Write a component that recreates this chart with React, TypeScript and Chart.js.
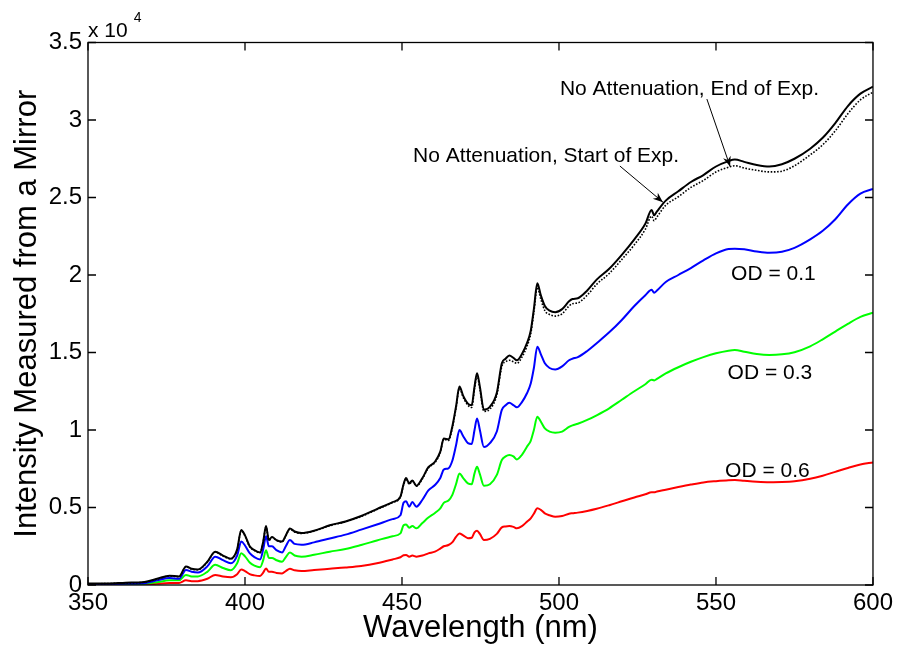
import { useEffect, useRef } from "react";
import { Chart, registerables } from "chart.js";

Chart.register(...registerables);

// Wavelength grid (nm) shared by every spectrum
const wavelengthNm = [
  350, 356, 362, 368, 372, 376, 379, 381.2, 383, 385,
  388, 390.5, 393, 395.5, 397.5, 398.8, 400, 401.5, 403, 404.8,
  405.8, 406.7, 407.6, 408.6, 410, 411.8, 413, 414.3, 415.8, 418,
  422, 427, 432, 437, 442, 447, 449.5, 450.5, 451.3, 452.3,
  453.3, 454.6, 456.5, 458.4, 460.5, 462.2, 463.3, 464.8, 466, 467.2,
  468.3, 469.5, 471, 472.2, 473.1, 473.9, 474.8, 476.1, 478, 480.2,
  481.8, 483, 484.2, 485.5, 486.6, 488.2, 489.8, 491, 492, 493.1,
  494.2, 495.5, 497, 498.8, 501, 503.2, 504.3, 506, 509, 512,
  516, 520, 524, 527.5, 529.5, 530.3, 531.2, 534, 538, 542,
  546, 550, 554, 556, 559, 563, 567, 571, 575, 580,
  584, 588, 592, 596, 600,
];

// No attenuation, end of experiment (counts)
const noAttenEnd = [
  100, 100, 150, 200, 400, 600, 550, 1200, 1050, 1000,
  1500, 2150, 1900, 1700, 2300, 3550, 3200, 2500, 2250, 2100,
  2800, 3800, 2900, 3100, 2900, 2800, 3200, 3650, 3450, 3350,
  3500, 3850, 4100, 4450, 4900, 5350, 5700, 6500, 6900, 6550,
  6750, 6400, 6900, 7600, 7950, 8600, 9450, 9400, 10200, 11500,
  12800, 12200, 11700, 11600, 12800, 13660, 12800, 11300, 11500, 12400,
  14300, 14600, 14800, 14650, 14500, 14900, 15600, 16400, 17800, 19460,
  18700, 18000, 17700, 17600, 17800, 18300, 18450, 18500, 19000, 19700,
  20400, 21300, 22300, 23300, 24200, 23850, 24100, 24800, 25400, 26000,
  26450, 27000, 27350, 27450, 27300, 27100, 27000, 27150, 27500, 28150,
  28850, 29800, 30900, 31700, 32150,
];

// No attenuation, start of experiment (counts)
const noAttenStart = [
  80, 90, 130, 180, 380, 580, 530, 1170, 1020, 980,
  1470, 2120, 1870, 1680, 2270, 3500, 3170, 2470, 2230, 2080,
  2770, 3750, 2870, 3070, 2880, 2780, 3170, 3600, 3420, 3330,
  3480, 3820, 4080, 4420, 4870, 5320, 5670, 6450, 6850, 6500,
  6700, 6370, 6850, 7550, 7900, 8550, 9400, 9330, 10100, 11400,
  12700, 12100, 11600, 11450, 12650, 13500, 12650, 11200, 11350, 12250,
  14100, 14400, 14500, 14400, 14300, 14700, 15400, 16200, 17600, 19200,
  18450, 17700, 17450, 17350, 17500, 18000, 18150, 18200, 18700, 19400,
  20100, 21000, 21950, 22950, 23800, 23500, 23750, 24500, 25050, 25650,
  26100, 26650, 26950, 27050, 26900, 26750, 26650, 26700, 27050, 27750,
  28400, 29300, 30400, 31300, 31800,
];

// OD = 0.1 filter (counts)
const od01 = [
  50, 50, 80, 120, 300, 450, 400, 970, 850, 800,
  1200, 1830, 1600, 1400, 1900, 2800, 2550, 2050, 1800, 1650,
  2300, 3150, 2500, 2500, 2250, 2100, 2500, 2900, 2650, 2600,
  2750, 3000, 3250, 3570, 3900, 4250, 4500, 5300, 5400, 5050,
  5350, 5050, 5500, 6100, 6450, 6900, 7450, 7530, 8000, 9000,
  10000, 9600, 9150, 9100, 10000, 10750, 10000, 8900, 9150, 9900,
  11300, 11600, 11760, 11600, 11460, 11800, 12370, 13000, 14000, 15370,
  14900, 14300, 14000, 13900, 14100, 14500, 14600, 14700, 15100, 15600,
  16300, 17100, 18000, 18700, 19050, 18850, 19000, 19550, 20000, 20450,
  20950, 21400, 21680, 21700, 21660, 21520, 21440, 21500, 21750, 22300,
  22850, 23600, 24550, 25250, 25550,
];

// OD = 0.3 filter (counts)
const od03 = [
  30, 30, 50, 80, 180, 300, 300, 650, 550, 550,
  850, 1300, 1100, 950, 1400, 2050, 1850, 1450, 1250, 1150,
  1600, 2250, 1750, 1750, 1600, 1500, 1800, 2100, 1900, 1830,
  1950, 2150, 2320, 2580, 2870, 3150, 3330, 3850, 3900, 3700,
  3800, 3660, 4000, 4350, 4650, 4950, 5300, 5450, 5800, 6500,
  7200, 6900, 6550, 6500, 7200, 7630, 7150, 6400, 6500, 7100,
  8060, 8300, 8390, 8300, 8100, 8400, 8920, 9300, 10000, 10860,
  10550, 10100, 9900, 9830, 9900, 10200, 10300, 10400, 10650, 10950,
  11400, 11950, 12500, 12950, 13250, 13200, 13300, 13650, 14050, 14400,
  14700, 14950, 15120, 15160, 15050, 14900, 14840, 14880, 15020, 15400,
  15850, 16350, 16850, 17300, 17570,
];

// OD = 0.6 filter (counts)
const od06 = [
  0, 0, 20, 30, 80, 130, 130, 300, 250, 250,
  400, 650, 550, 500, 700, 1000, 900, 700, 620, 580,
  800, 1070, 850, 850, 780, 750, 900, 1050, 950, 900,
  970, 1050, 1130, 1230, 1400, 1650, 1790, 1920, 1940, 1820,
  1900, 1830, 1900, 2040, 2150, 2350, 2500, 2580, 2750, 3100,
  3330, 3200, 3020, 3050, 3400, 3500, 3300, 2900, 2980, 3300,
  3720, 3780, 3800, 3750, 3660, 3800, 4080, 4300, 4600, 4950,
  4850, 4620, 4500, 4400, 4450, 4600, 4630, 4670, 4780, 4920,
  5150, 5400, 5650, 5850, 5980, 5980, 6030, 6150, 6320, 6480,
  6620, 6700, 6760, 6770, 6720, 6660, 6630, 6640, 6690, 6850,
  7050, 7300, 7550, 7780, 7900,
];

const xTickValues = [350, 400, 450, 500, 550, 600];
const yTickValues = [0, 5000, 10000, 15000, 20000, 25000, 30000, 35000];
const yTickLabels = ["0", "0.5", "1", "1.5", "2", "2.5", "3", "3.5"];

// Text labels placed in data units (nm, counts); text is left-aligned at its baseline
const labelTexts = [
  "No Attenuation, End of Exp.",
  "No Attenuation, Start of Exp.",
  "OD = 0.1",
  "OD = 0.3",
  "OD = 0.6",
];
const labelNm = [500.3, 453.5, 554.8, 553.7, 552.9];
const labelCounts = [31600, 27300, 19680, 13300, 6950];

// Arrows from the two "No Attenuation" labels to their curves
const arrowFromNm = [547.1, 519.4];
const arrowFromCounts = [31350, 27030];
const arrowToNm = [554.5, 533.1];
const arrowToCounts = [27000, 24700];

const FONT = '"Liberation Sans", Arial, sans-serif';
const TICK_LEN = 8;

const toPoints = (ys: number[]) => wavelengthNm.map((x, i) => ({ x, y: ys[i] }));

const framePlugin = {
  id: "matlabFrame",
  afterDatasetsDraw(chart: any) {
    const { ctx, chartArea: a, scales } = chart;
    const xs = scales.x;
    const ys = scales.y;
    ctx.save();
    ctx.strokeStyle = "#000";
    ctx.lineWidth = 1.3;
    ctx.strokeRect(a.left, a.top, a.right - a.left, a.bottom - a.top);

    // inward tick marks on all four sides
    ctx.beginPath();
    for (const t of xs.ticks) {
      const px = xs.getPixelForValue(t.value);
      ctx.moveTo(px, a.bottom);
      ctx.lineTo(px, a.bottom - TICK_LEN);
      ctx.moveTo(px, a.top);
      ctx.lineTo(px, a.top + TICK_LEN);
    }
    for (const t of ys.ticks) {
      const py = ys.getPixelForValue(t.value);
      ctx.moveTo(a.left, py);
      ctx.lineTo(a.left + TICK_LEN, py);
      ctx.moveTo(a.right, py);
      ctx.lineTo(a.right - TICK_LEN, py);
    }
    ctx.stroke();

    // exponent label above the y axis
    ctx.fillStyle = "#000";
    ctx.textAlign = "left";
    ctx.textBaseline = "alphabetic";
    ctx.font = `21px ${FONT}`;
    ctx.fillText("x 10", a.left, a.top - 5.5);
    const w = ctx.measureText("x 10").width;
    ctx.font = `14px ${FONT}`;
    ctx.fillText("4", a.left + w + 6, a.top - 20.5);

    // curve labels
    ctx.font = `21px ${FONT}`;
    labelTexts.forEach((txt, i) => {
      ctx.fillText(txt, xs.getPixelForValue(labelNm[i]), ys.getPixelForValue(labelCounts[i]));
    });

    // arrows
    ctx.lineWidth = 1;
    arrowFromNm.forEach((_, i) => {
      const x0 = xs.getPixelForValue(arrowFromNm[i]);
      const y0 = ys.getPixelForValue(arrowFromCounts[i]);
      const x1 = xs.getPixelForValue(arrowToNm[i]);
      const y1 = ys.getPixelForValue(arrowToCounts[i]);
      const ang = Math.atan2(y1 - y0, x1 - x0);
      ctx.beginPath();
      ctx.moveTo(x0, y0);
      ctx.lineTo(x1, y1);
      ctx.stroke();
      const hl = 10;
      const hw = 4;
      const bx = x1 - hl * Math.cos(ang);
      const by = y1 - hl * Math.sin(ang);
      const nx = -Math.sin(ang);
      const ny = Math.cos(ang);
      const backX = x1 - hl * 0.7 * Math.cos(ang);
      const backY = y1 - hl * 0.7 * Math.sin(ang);
      ctx.beginPath();
      ctx.moveTo(x1, y1);
      ctx.lineTo(bx + nx * hw, by + ny * hw);
      ctx.lineTo(backX, backY);
      ctx.lineTo(bx - nx * hw, by - ny * hw);
      ctx.closePath();
      ctx.fill();
    });
    ctx.restore();
  },
};

export default function App() {
  const canvasRef = useRef<HTMLCanvasElement | null>(null);

  useEffect(() => {
    const canvas = canvasRef.current;
    if (!canvas) return;
    const line = (label: string, ys: number[], color: string, width: number, dash: number[] = []) => ({
      label,
      data: toPoints(ys),
      borderColor: color,
      backgroundColor: color,
      borderWidth: width,
      borderDash: dash,
      pointRadius: 0,
      fill: false,
      cubicInterpolationMode: "monotone" as const,
    });

    const chart = new Chart(canvas, {
      type: "line",
      data: {
        datasets: [
          line("No Attenuation, End of Exp.", noAttenEnd, "#000000", 2),
          line("No Attenuation, Start of Exp.", noAttenStart, "#000000", 1.6, [1.6, 1.6]),
          line("OD = 0.1", od01, "#0000ff", 2),
          line("OD = 0.3", od03, "#00ff00", 2),
          line("OD = 0.6", od06, "#ff0000", 2),
        ],
      },
      options: {
        animation: false,
        responsive: false,
        events: [],
        layout: { padding: { top: 42.5, right: 24, left: 0, bottom: 0 } },
        plugins: { legend: { display: false }, tooltip: { enabled: false } },
        scales: {
          x: {
            type: "linear",
            min: 350,
            max: 600,
            afterBuildTicks: (scale: any) => {
              scale.ticks = xTickValues.map((value) => ({ value }));
            },
            afterFit: (scale: any) => {
              scale.height = 61;
            },
            ticks: {
              autoSkip: false,
              maxRotation: 0,
              padding: 4,
              color: "#000",
              font: { family: FONT, size: 24 },
              callback: (v: any) => String(v),
            },
            grid: { display: false, drawTicks: false },
            border: { display: false },
            title: {
              display: true,
              text: "Wavelength (nm)",
              color: "#000",
              font: { family: FONT, size: 31, lineHeight: 1.1 },
              padding: 0,
            },
          },
          y: {
            type: "linear",
            min: 0,
            max: 35000,
            afterBuildTicks: (scale: any) => {
              scale.ticks = yTickValues.map((value) => ({ value }));
            },
            afterFit: (scale: any) => {
              scale.width = 88;
            },
            ticks: {
              autoSkip: false,
              padding: 6,
              color: "#000",
              font: { family: FONT, size: 24 },
              callback: (_v: any, i: number) => yTickLabels[i],
            },
            grid: { display: false, drawTicks: false },
            border: { display: false },
            title: {
              display: true,
              text: "Intensity Measured from a Mirror",
              color: "#000",
              font: { family: FONT, size: 31, lineHeight: 1.2 },
              padding: { top: 9, bottom: 0 },
            },
          },
        },
      },
      plugins: [framePlugin],
    });

    return () => chart.destroy();
  }, []);

  return (
    <div style={{ position: "absolute", left: 0, top: 0, width: 897, height: 646, background: "#fff" }}>
      <canvas ref={canvasRef} width={897} height={646} style={{ display: "block" }} />
    </div>
  );
}
